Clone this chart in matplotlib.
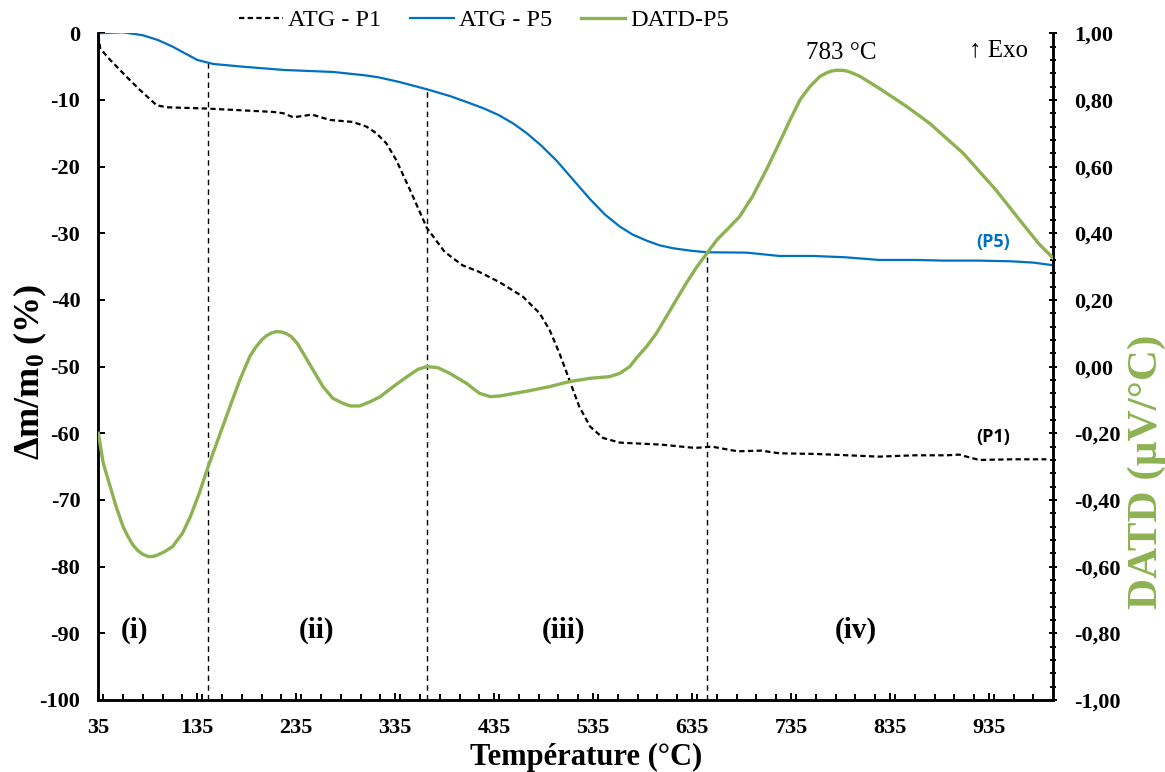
import matplotlib
matplotlib.use("Agg")
import matplotlib.pyplot as plt
import numpy as np
from matplotlib.ticker import MultipleLocator, FuncFormatter
from matplotlib.lines import Line2D

plt.rcParams['font.family'] = ['Liberation Serif', 'DejaVu Serif']
plt.rcParams['axes.unicode_minus'] = False
plt.rcParams['mathtext.fontset'] = 'custom'
plt.rcParams['mathtext.rm'] = 'Liberation Serif:bold'
plt.rcParams['mathtext.it'] = 'Liberation Serif:bold'
plt.rcParams['mathtext.bf'] = 'Liberation Serif:bold'

# ATG - P1 (perte de masse, %)
t_p1 = [35, 37, 47, 64, 77, 94, 104, 146, 212, 222, 232, 251, 269, 292, 306, 316, 326,
        336, 350, 367, 385, 403, 420, 440, 464, 481, 491, 501, 511, 521, 532, 545, 562,
        604, 638, 655, 681, 705, 723, 760, 824, 860, 892, 905, 925, 960, 993]
m_p1 = [-0.3, -2.3, -4.0, -6.6, -8.5, -10.8, -11.1, -11.3, -11.8, -12.0, -12.6, -12.2, -13.0,
        -13.3, -14.0, -15.0, -16.5, -19.0, -23.5, -29.2, -32.8, -34.8, -35.8, -37.3, -39.5,
        -42.0, -44.5, -48.0, -52.0, -56.0, -59.0, -60.7, -61.4, -61.7, -62.2, -62.0, -62.7,
        -62.6, -63.0, -63.1, -63.5, -63.3, -63.3, -63.2, -64.0, -63.9, -63.9]

# ATG - P5
t_p5 = [35, 60, 80, 95, 110, 125, 135, 151, 180, 222, 272, 304, 318, 339, 367, 390, 407,
        425, 440, 455, 468, 483, 498, 515, 532, 547, 562, 575, 589, 602, 616, 633, 650,
        690, 723, 757, 790, 824, 860, 890, 925, 957, 980, 1000]
m_p5 = [0.0, 0.15, -0.3, -1.0, -2.0, -3.2, -4.0, -4.6, -5.0, -5.5, -5.8, -6.3, -6.6, -7.3,
        -8.4, -9.4, -10.3, -11.3, -12.3, -13.6, -15.0, -16.9, -19.1, -22.0, -24.9, -27.2,
        -29.0, -30.2, -31.1, -31.8, -32.25, -32.6, -32.85, -32.9, -33.4, -33.4, -33.6,
        -34.0, -34.0, -34.1, -34.1, -34.2, -34.4, -34.8]

# DATD - P5 (µV/°C)
t_d5 = [35, 40, 47, 53, 60, 65, 70, 75, 80, 84, 87, 91, 95, 102, 110, 120, 128, 137, 146,
        157, 168, 178, 188, 194, 200, 205, 210, 215, 220, 225, 230, 236, 248, 262, 272, 282,
        290, 299, 310, 320, 333, 347, 358, 367, 378, 390, 407, 420, 431, 441, 456, 471, 491,
        511, 532, 552, 562, 572, 580, 589, 599, 609, 619, 629, 640, 650, 660, 670, 683, 696,
        710, 723, 734, 744, 754, 764, 770, 775, 780, 786, 791, 795, 804, 824, 852, 875, 909,
        942, 966, 985, 1000]
d_d5 = [-0.20, -0.29, -0.36, -0.42, -0.48, -0.51, -0.535, -0.552, -0.563, -0.568, -0.57,
        -0.569, -0.565, -0.555, -0.54, -0.50, -0.45, -0.38, -0.30, -0.21, -0.12, -0.04, 0.03,
        0.058, 0.08, 0.093, 0.101, 0.105, 0.104, 0.099, 0.09, 0.07, 0.01, -0.06, -0.095,
        -0.11, -0.118, -0.118, -0.105, -0.09, -0.06, -0.03, -0.008, 0.0, -0.003, -0.02,
        -0.05, -0.08, -0.09, -0.088, -0.08, -0.072, -0.06, -0.045, -0.035, -0.03, -0.02,
        0.0, 0.03, 0.06, 0.10, 0.15, 0.20, 0.25, 0.30, 0.34, 0.38, 0.41, 0.45, 0.51, 0.59,
        0.67, 0.74, 0.80, 0.84, 0.87, 0.88, 0.886, 0.889, 0.889, 0.887, 0.883, 0.872, 0.835,
        0.78, 0.73, 0.64, 0.53, 0.44, 0.37, 0.325]

# limites des domaines
t_limits = [146, 367, 650]
zones = ['(i)', '(ii)', '(iii)', '(iv)']
zone_x = [72, 255, 505, 800]
x_ticks = [35, 135, 235, 335, 435, 535, 635, 735, 835, 935]

c_blue = '#0070C0'
c_green = '#8DB252'

fig = plt.figure(figsize=(11.65, 7.72), dpi=100)
ax = fig.add_axes([0.0844, 0.0933, 0.8197, 0.8636])
ax2 = ax.twinx()

ax.plot(t_p1, m_p1, color='black', lw=1.6, dashes=(2.4, 1.5), zorder=3)
ax.plot(t_p5, m_p5, color=c_blue, lw=1.6, zorder=3)
ax2.plot(t_d5, d_d5, color=c_green, lw=2.4, zorder=4, solid_joinstyle='round')

for t in t_limits:
    ax.vlines(t, -100, np.interp(t, t_p5, m_p5), colors='black', lw=1.0,
              linestyles=(0, (4, 3)), zorder=2)

ax.set_xlim(35, 1000)
ax.set_ylim(-100, 0)
ax2.set_ylim(-1, 1)

ax.set_xticks(x_ticks)
ax.xaxis.set_minor_locator(MultipleLocator(20))
ax.yaxis.set_major_locator(MultipleLocator(10))
ax2.yaxis.set_major_locator(MultipleLocator(0.2))
ax2.yaxis.set_minor_locator(MultipleLocator(0.04))
ax2.yaxis.set_major_formatter(FuncFormatter(lambda v, p: f'{v:.2f}'.replace('.', ',')))

for a in (ax, ax2):
    a.spines['top'].set_visible(False)
    for s in ('left', 'bottom', 'right'):
        a.spines[s].set_linewidth(1.8)

ax.tick_params(axis='x', which='major', direction='in', length=5, width=1.4, pad=13,
               labelsize=16)
ax.tick_params(axis='x', which='minor', direction='in', length=4, width=1.4)
ax.tick_params(axis='y', which='major', direction='in', length=5, width=1.4, pad=13,
               labelsize=16)
ax2.tick_params(axis='y', which='major', direction='inout', length=6, width=1.4, pad=12,
                labelsize=16)
ax2.tick_params(axis='y', which='minor', direction='inout', length=4, width=1.4)
for lab in ax.get_xticklabels() + ax.get_yticklabels() + ax2.get_yticklabels():
    lab.set_fontweight('bold')

fig.text(586 / 1165, 1 - 757 / 772, 'Température (°C)', ha='center', va='center',
         fontsize=22, fontweight='bold')
fig.text(30 / 1165, 1 - 372 / 772, r'$\Delta$m/m$_0$ (%)', ha='center', va='center',
         rotation=90, fontsize=26, fontweight='bold')
fig.text(1147 / 1165, 1 - 472 / 772, 'DATD (µV/°C)', ha='center', va='center',
         rotation=90, fontsize=31, fontweight='bold', color=c_green)

for z, x in zip(zones, zone_x):
    ax.text(x, -89.5, z, ha='center', va='center', fontsize=21, fontweight='bold')

ax2.text(786, 0.94, '783 °C', ha='center', va='center', fontsize=18)
ax2.text(974, 0.95, '↑ Exo', ha='right', va='center', fontsize=18)
ax.text(939, -31.3, '(P5)', ha='center', va='center', fontsize=13, fontweight='bold',
        color=c_blue, family=['Open Sans', 'DejaVu Sans'])
ax.text(939, -60.5, '(P1)', ha='center', va='center', fontsize=13, fontweight='bold',
        color='black', family=['Open Sans', 'DejaVu Sans'])

handles = [Line2D([], [], color='black', lw=1.6, dashes=(2.4, 1.5)),
           Line2D([], [], color=c_blue, lw=1.6),
           Line2D([], [], color=c_green, lw=2.4)]
fig.legend(handles, ['ATG - P1', 'ATG - P5', 'DATD-P5'], loc='center',
           bbox_to_anchor=(484 / 1165, 1 - 20 / 772), ncol=3, frameon=False,
           fontsize=17.5, handlelength=1.8, handletextpad=0.2, columnspacing=1.2,
           borderpad=0, borderaxespad=0)

fig.savefig('out.png', dpi=100)
